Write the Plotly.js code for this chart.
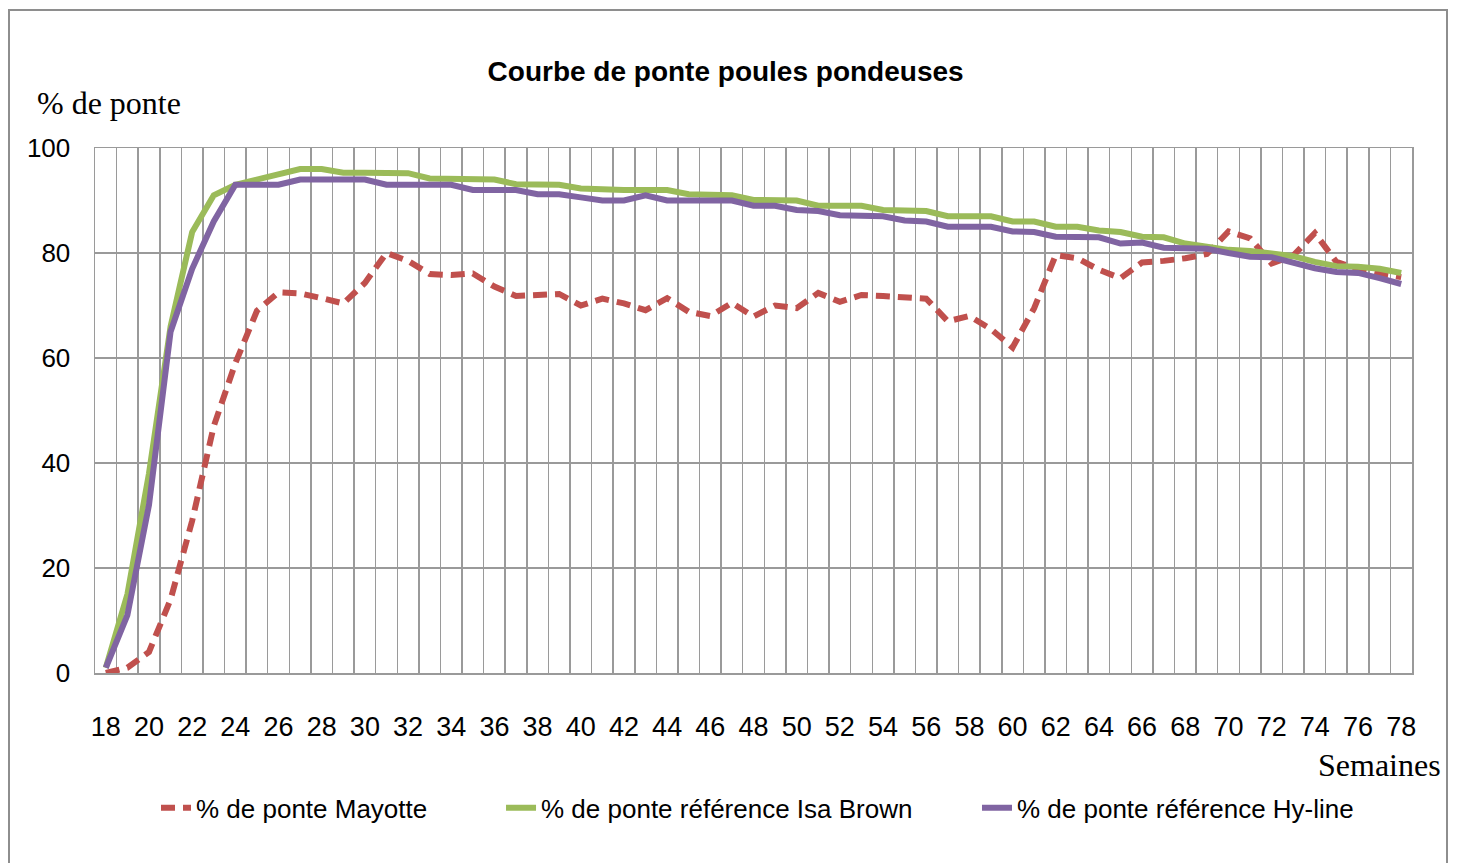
<!DOCTYPE html>
<html>
<head>
<meta charset="utf-8">
<script src="https://cdn.plot.ly/plotly-3.0.1.min.js"></script>
<style>
  html, body { margin: 0; padding: 0; background: #ffffff; }
  #frame { position: absolute; left: 8px; top: 9px; width: 1436px; height: 870px; border: 2px solid #8e8e8e; pointer-events: none; z-index: 5; }
  #chart { position: absolute; left: 0; top: 0; width: 1457px; height: 863px; }
</style>
</head>
<body>
<div id="chart"></div>
<div id="frame"></div>
<script>
// Weeks (semaines)
const weeks = [18,19,20,21,22,23,24,25,26,27,28,29,30,31,32,33,34,35,36,37,38,39,40,
  41,42,43,44,45,46,47,48,49,50,51,52,53,54,55,56,57,58,59,60,
  61,62,63,64,65,66,67,68,69,70,71,72,73,74,75,76,77,78];

// % de ponte Mayotte
const mayotte = [0,1,4,14,29,47,59,69,72.5,72.3,71.4,70.4,74.3,80,78.5,76,75.8,76.1,73.6,71.8,72,72.2,70,
  71.3,70.4,69.1,71.4,68.8,68,70.5,67.9,70,69.5,72.4,70.7,72,71.8,71.5,71.3,67,68,65.5,62,
  69.5,79.6,79,76.8,75.2,78.2,78.5,79,79.8,84.1,82.8,78,79.5,83.8,78.3,77,76.1,75.4];

// % de ponte référence Isa Brown
const isaBrown = [1,15,38,66,84,91,93,94,95,96,96,95.3,95.3,95.3,95.2,94.2,94.2,94.2,94,93.1,93.1,93,92.3,
  92.1,92,92,92,91.2,91,91,90.1,90,90,89,89,89,88.2,88.2,88,87,87,87,86,
  86,85,85,84.3,84,83.1,83,81.8,81.1,80.6,80.4,79.8,79.4,78.3,77.5,77.4,77,76.2];

// % de ponte référence Hy-line
const hyLine = [1,11,32,65,77,86,93,93,93,94,94,94,94,93,93,93,93,92,92,92,91.2,91.2,90.6,
  90,90,91,90,90,90,90,89,89,88.2,88,87.2,87,87,86.2,86,85,85,85,84.1,
  84,83.1,83,83,81.8,82,81,81,80.8,80,79.3,79.2,78.2,77.1,76.4,76.2,75.2,74.1];

const xTickVals = [18,20,22,24,26,28,30,32,34,36,38,40,42,44,46,48,50,52,54,56,58,60,62,64,66,68,70,72,74,76,78];
const yTickVals = [0,20,40,60,80,100];

const seriesNames = ['% de ponte Mayotte', '% de ponte référence Isa Brown', '% de ponte référence Hy-line'];

const sans = '"Liberation Sans", Arial, sans-serif';
const serif = '"Liberation Serif", "Times New Roman", serif';
const gridC = '#9a9a9a';

const traces = [
  { x: weeks, y: mayotte, name: seriesNames[0], type: 'scatter', mode: 'lines', legend: 'legend',
    line: { color: '#C0504D', width: 6, dash: '14px,8px' } },
  { x: weeks, y: isaBrown, name: seriesNames[1], type: 'scatter', mode: 'lines', legend: 'legend2',
    line: { color: '#9BBB59', width: 6 } },
  { x: weeks, y: hyLine, name: seriesNames[2], type: 'scatter', mode: 'lines', legend: 'legend3',
    line: { color: '#8064A2', width: 6 } }
];

function legendAt(xp) {
  return { orientation: 'h', x: xp, xanchor: 'left', y: -0.257, yanchor: 'middle',
    font: { family: sans, size: 26, color: '#000000' }, bgcolor: 'rgba(0,0,0,0)' };
}

const layout = {
  width: 1457, height: 863,
  paper_bgcolor: 'rgba(0,0,0,0)', plot_bgcolor: '#ffffff',
  margin: { l: 95, r: 45, t: 148, b: 190 },
  title: { text: 'Courbe de ponte poules pondeuses', x: 0.498, xanchor: 'center', y: 0.917, yanchor: 'middle',
    font: { family: sans, size: 28, color: '#000000', weight: 'bold' } },
  showlegend: true,
  legend: legendAt(0.0463),
  legend2: legendAt(0.3083),
  legend3: legendAt(0.6697),
  xaxis: {
    range: [17.5, 78.5], tickmode: 'array', tickvals: xTickVals, ticktext: xTickVals.map(String),
    showgrid: false, zeroline: false,
    ticks: 'outside', ticklen: 29, tickcolor: 'rgba(0,0,0,0)',
    tickfont: { family: sans, size: 27, color: '#000000' },
    showline: true, linecolor: gridC, linewidth: 1.5, mirror: true,
    minor: { tick0: 17.5, dtick: 1, showgrid: true, gridcolor: gridC, gridwidth: 1.5, ticks: '' }
  },
  yaxis: {
    range: [0, 100], tickmode: 'array', tickvals: yTickVals, ticktext: yTickVals.map(String),
    showgrid: true, gridcolor: gridC, gridwidth: 1.5, zeroline: false,
    ticks: 'outside', ticklen: 18, tickcolor: 'rgba(0,0,0,0)',
    tickfont: { family: sans, size: 26, color: '#000000' },
    showline: true, linecolor: gridC, linewidth: 1.5, mirror: true
  },
  annotations: [
    { text: '% de ponte', xref: 'paper', yref: 'paper', x: -0.0456, y: 1.086, xanchor: 'left', yanchor: 'middle',
      showarrow: false, font: { family: serif, size: 32, color: '#000000' } },
    { text: 'Semaines', xref: 'paper', yref: 'paper', x: 1.0235, y: -0.175, xanchor: 'right', yanchor: 'middle',
      showarrow: false, font: { family: serif, size: 32, color: '#000000' } }
  ]
};

Plotly.newPlot('chart', traces, layout, { displayModeBar: false, staticPlot: true });
</script>
</body>
</html>
